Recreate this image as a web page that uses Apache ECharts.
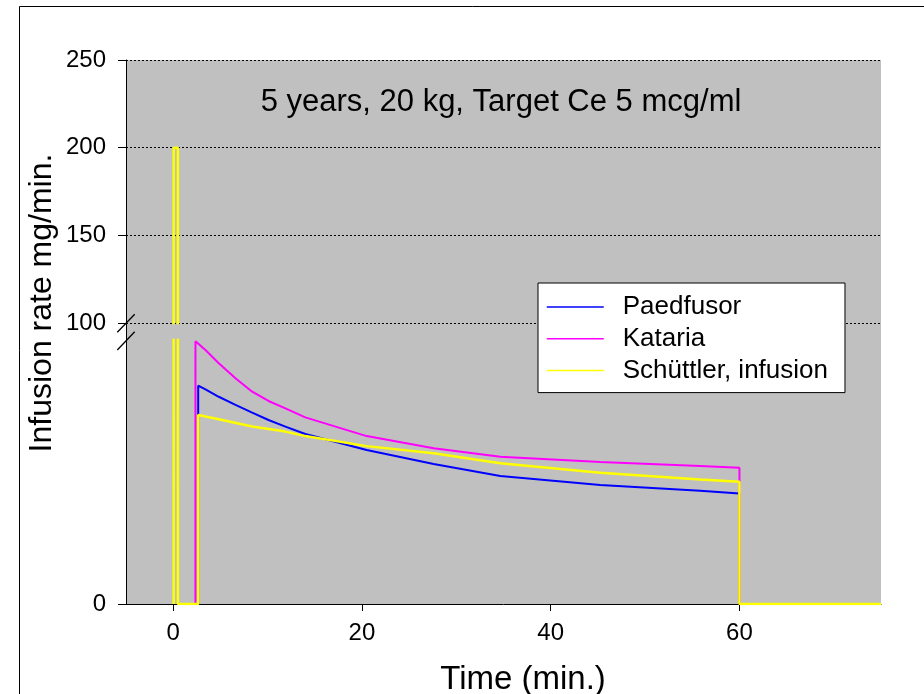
<!DOCTYPE html>
<html>
<head>
<meta charset="utf-8">
<script src="https://cdn.jsdelivr.net/npm/echarts@6/dist/echarts.min.js"></script>
<style>
  html, body { margin: 0; padding: 0; background: #ffffff; }
  #chart { width: 924px; height: 694px; }
</style>
</head>
<body>
<div id="chart"></div>
<script>
// Propofol infusion rate profiles (mg/min) over time (min)
const paedfusorTime = [2.65, 2.65, 3.42, 4.83, 6.6, 8.37, 10.1, 11.89, 14.0, 20.5, 27.6, 34.66, 45.25, 55.84, 60, 60, 75];
const paedfusorRate = [0, 82.7, 81.3, 78.5, 75.4, 72.5, 69.7, 67.2, 64.4, 58.3, 53.0, 48.5, 45.1, 42.9, 41.9, 0, 0];

const katariaTime = [2.36, 2.36, 3.42, 4.83, 6.6, 8.37, 10.1, 11.89, 14.0, 20.5, 27.6, 34.66, 45.25, 55.84, 60, 60, 75];
const katariaRate = [0, 99.5, 96.2, 91.2, 85.5, 80.4, 76.9, 74.1, 70.7, 63.6, 59.0, 55.8, 53.8, 52.3, 51.6, 0, 0];

const schuttlerTime = [0.05, 0.05, 0.5, 0.5, 2.65, 2.65, 4.83, 8.37, 11.89, 14.0, 20.5, 27.6, 34.66, 45.25, 55.84, 60, 60, 75];
const schuttlerRate = [0, 200, 200, 0, 0, 71.6, 70.0, 67.2, 65.3, 63.6, 59.8, 57.1, 53.3, 49.7, 47.2, 46.3, 0, 0];

const seriesNames = ['Paedfusor', 'Kataria', 'Schüttler, infusion'];
const xTickValues = [0, 20, 40, 60];
const lowerTickValues = [0];

const FONT = '"Liberation Sans", Arial, sans-serif';

function pairs(t, v) { return t.map((x, i) => [x, v[i]]); }

// Plot frame in pixels
const plotLeft = 126, plotRight = 881, plotTop = 60, plotBottom = 604;
const breakUpper = 323, breakLower = 340;

const chart = echarts.init(document.getElementById('chart'), null, { renderer: 'canvas' });

const lineBase = { type: 'line', symbol: 'none', animation: false, smooth: false };
const axisLineStyle = { show: true, onZero: false, lineStyle: { color: '#000', width: 1 } };

chart.setOption({
  backgroundColor: '#ffffff',
  animation: false,
  grid: [
    { left: plotLeft, right: 924 - plotRight, top: plotTop, height: breakUpper - plotTop },
    { left: plotLeft, right: 924 - plotRight, top: breakLower, height: plotBottom - breakLower }
  ],
  xAxis: [
    { gridIndex: 0, type: 'value', min: -5, max: 75, show: false },
    {
      gridIndex: 1, type: 'value', min: -5, max: 75,
      axisLine: axisLineStyle,
      axisTick: { show: true, inside: false, length: 7, customValues: xTickValues, lineStyle: { color: '#000' } },
      axisLabel: { customValues: xTickValues, color: '#000', fontSize: 24, fontFamily: FONT, margin: 17 },
      splitLine: { show: false }
    }
  ],
  yAxis: [
    {
      gridIndex: 0, type: 'value', min: 100, max: 250, interval: 50,
      axisLine: axisLineStyle,
      axisTick: { show: true, inside: false, length: 8, lineStyle: { color: '#000' } },
      axisLabel: { color: '#000', fontSize: 24, fontFamily: FONT, margin: 20 },
      splitLine: { show: true, lineStyle: { color: '#000', width: 1, type: [2, 2] } }
    },
    {
      gridIndex: 1, type: 'value', min: 0, max: 100,
      axisLine: axisLineStyle,
      axisTick: { show: true, inside: false, length: 8, customValues: lowerTickValues, lineStyle: { color: '#000' } },
      axisLabel: { customValues: lowerTickValues, color: '#000', fontSize: 24, fontFamily: FONT, margin: 20 },
      splitLine: { show: false }
    }
  ],
  legend: {
    data: seriesNames,
    orient: 'vertical',
    left: 538, top: 283,
    padding: [11, 17, 9, 8],
    itemWidth: 57, itemHeight: 20, itemGap: 5.8,
    backgroundColor: '#ffffff',
    borderColor: '#000', borderWidth: 1,
    itemStyle: { opacity: 0 },
    lineStyle: { width: 1.5 },
    textStyle: { color: '#000', fontSize: 26, fontFamily: FONT, padding: [0, 0, 0, 14] },
    selectedMode: false
  },
  series: [
    Object.assign({}, lineBase, {
      name: seriesNames[0], xAxisIndex: 1, yAxisIndex: 1, z: 2,
      data: pairs(paedfusorTime, paedfusorRate),
      lineStyle: { color: '#0000ff', width: 2 }, itemStyle: { color: '#0000ff' }
    }),
    Object.assign({}, lineBase, {
      name: seriesNames[1], xAxisIndex: 1, yAxisIndex: 1, z: 3,
      data: pairs(katariaTime, katariaRate),
      lineStyle: { color: '#ff00ff', width: 2 }, itemStyle: { color: '#ff00ff' }
    }),
    Object.assign({}, lineBase, {
      name: seriesNames[2], xAxisIndex: 1, yAxisIndex: 1, z: 4,
      data: pairs(schuttlerTime, schuttlerRate),
      lineStyle: { color: '#ffff00', width: 2.5 }, itemStyle: { color: '#ffff00' }
    }),
    Object.assign({}, lineBase, {
      name: seriesNames[2], xAxisIndex: 0, yAxisIndex: 0, z: 4,
      data: pairs(schuttlerTime, schuttlerRate),
      lineStyle: { color: '#ffff00', width: 2.5 }, itemStyle: { color: '#ffff00' }
    })
  ],
  graphic: [
    // plot background spanning both axis segments
    { type: 'rect', z: -100, silent: true,
      shape: { x: plotLeft, y: plotTop, width: plotRight - plotLeft, height: plotBottom - plotTop },
      style: { fill: '#c0c0c0' } },
    // outer frame
    { type: 'rect', z: -101, silent: true,
      shape: { x: 19.5, y: 6.5, width: 920, height: 720 },
      style: { fill: 'none', stroke: '#000', lineWidth: 1 } },
    // axis line across the break gap
    { type: 'line', z: 100, silent: true,
      shape: { x1: plotLeft + 0.5, y1: breakUpper, x2: plotLeft + 0.5, y2: breakLower },
      style: { stroke: '#000', lineWidth: 1 } },
    // break marks
    { type: 'line', z: 100, silent: true,
      shape: { x1: 117.3, y1: 332.3, x2: 134.7, y2: 314.3 },
      style: { stroke: '#000', lineWidth: 1.3 } },
    { type: 'line', z: 100, silent: true,
      shape: { x1: 117.3, y1: 350, x2: 134.7, y2: 331.7 },
      style: { stroke: '#000', lineWidth: 1.3 } },
    // chart title inside the plot
    { type: 'text', z: 100, silent: true, x: 501, y: 102,
      style: { text: '5 years, 20 kg, Target Ce 5 mcg/ml', fill: '#000', font: '31px ' + FONT,
               textAlign: 'center', textVerticalAlign: 'middle' } },
    // axis titles
    { type: 'text', z: 100, silent: true, x: 523, y: 680,
      style: { text: 'Time (min.)', fill: '#000', font: '33px ' + FONT,
               textAlign: 'center', textVerticalAlign: 'middle' } },
    { type: 'text', z: 100, silent: true, x: 42, y: 303, rotation: Math.PI / 2,
      style: { text: 'Infusion rate mg/min.', fill: '#000', font: '32px ' + FONT,
               textAlign: 'center', textVerticalAlign: 'middle' } }
  ]
});
</script>
</body>
</html>
